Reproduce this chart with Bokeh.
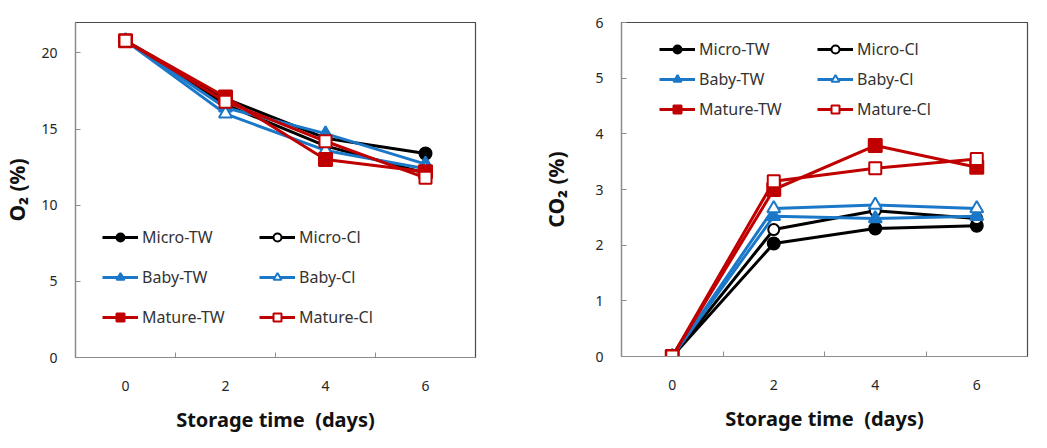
from bokeh.plotting import figure
from bokeh.models import Legend, LegendItem, FixedTicker, Range1d
from bokeh.layouts import row
from bokeh.embed import file_html
from bokeh.resources import INLINE

days = [0, 2, 4, 6]
series_names = ["Micro-TW", "Micro-Cl", "Baby-TW", "Baby-Cl", "Mature-TW", "Mature-Cl"]

o2_micro_tw = [20.8, 17.0, 14.4, 13.4]
o2_micro_cl = [20.8, 16.6, 13.9, 12.1]
o2_baby_tw = [20.8, 16.4, 14.7, 12.7]
o2_baby_cl = [20.8, 16.0, 13.6, 12.4]
o2_mature_tw = [20.8, 17.1, 13.0, 12.2]
o2_mature_cl = [20.8, 16.8, 14.2, 11.8]

co2_micro_tw = [0.0, 2.03, 2.30, 2.35]
co2_micro_cl = [0.0, 2.28, 2.62, 2.48]
co2_baby_tw = [0.0, 2.52, 2.48, 2.52]
co2_baby_cl = [0.0, 2.66, 2.72, 2.66]
co2_mature_tw = [0.0, 3.00, 3.79, 3.40]
co2_mature_cl = [0.0, 3.15, 3.38, 3.55]

o2_ticks = [0, 5, 10, 15, 20]
co2_ticks = [0, 1, 2, 3, 4, 5, 6]
x_ticks = [0, 2, 4, 6]
x_minor = [1, 3, 5]

BLACK = "#000000"
BLUE = "#1B78C8"
RED = "#C00000"
styles = [
    (BLACK, "circle", True, 12),
    (BLACK, "circle", False, 11),
    (BLUE, "triangle", True, 13),
    (BLUE, "triangle", False, 13),
    (RED, "square", True, 13),
    (RED, "square", False, 12),
]
FONT = "Noto Sans"
# legend is laid out column by column: put TW items first, then Cl items
legend_order = [0, 2, 4, 1, 3, 5]


def make_panel(data, ymax, yticks, ylabel, fw, fh, mleft, mright, mtop, mbottom,
               leg_loc, leg_spacing, leg_label_w, ylab_standoff):
    p = figure(frame_width=fw, frame_height=fh, output_backend="svg",
               toolbar_location=None, x_range=Range1d(-1, 7), y_range=Range1d(0, ymax),
               min_border_left=mleft, min_border_right=mright,
               min_border_top=mtop, min_border_bottom=mbottom)
    p.grid.visible = False
    p.outline_line_color = "#4a4a4a"
    p.outline_line_width = 1.2
    p.background_fill_color = "white"
    p.border_fill_color = "white"

    p.xaxis.ticker = FixedTicker(ticks=x_ticks, minor_ticks=x_minor)
    p.yaxis.ticker = FixedTicker(ticks=yticks)
    for ax in (p.xaxis, p.yaxis):
        ax.axis_line_color = "#8c8c8c"
        ax.axis_line_width = 1.2
        ax.major_tick_out = 0
        ax.minor_tick_out = 0
        ax.major_label_text_font = FONT
        ax.major_label_text_font_size = "14px"
        ax.major_label_text_color = "#262626"
        ax.axis_label_text_font = FONT
        ax.axis_label_text_font_style = "bold"
        ax.axis_label_text_color = "#111111"
    p.xaxis.axis_label_text_font_size = "20px"
    p.yaxis.axis_label_text_font_size = "21px"
    p.xaxis.major_tick_in = 0
    p.xaxis.minor_tick_in = 5
    p.xaxis.minor_tick_line_color = "#8c8c8c"
    p.yaxis.major_tick_in = 5
    p.yaxis.major_tick_line_color = "#8c8c8c"
    p.yaxis.minor_tick_in = 0
    p.xaxis.major_label_standoff = 23
    p.yaxis.major_label_standoff = 18
    p.xaxis.axis_label = "Storage time\u00a0\u00a0(days)"
    p.yaxis.axis_label = ylabel
    p.xaxis.axis_label_standoff = 12
    p.yaxis.axis_label_standoff = ylab_standoff

    items = []
    for name, vals, (col, mk, filled, sz) in zip(series_names, data, styles):
        r1 = p.line(days, vals, line_color=col, line_width=3)
        r2 = p.scatter(days, vals, marker=mk, size=sz, line_color=col,
                       fill_color=col if filled else "white", line_width=2)
        items.append(LegendItem(label=name, renderers=[r1, r2]))
    items = [items[i] for i in legend_order]

    leg = Legend(items=items, ncols=2, location=leg_loc, padding=0, margin=0,
                 border_line_color=None, background_fill_alpha=0,
                 glyph_width=36, glyph_height=20, label_height=20,
                 label_standoff=4, spacing=leg_spacing, label_width=leg_label_w,
                 label_text_font=FONT, label_text_font_size="16px",
                 label_text_color="#333333")
    p.add_layout(leg, "center")
    return p


left = make_panel(
    [o2_micro_tw, o2_micro_cl, o2_baby_tw, o2_baby_cl, o2_mature_tw, o2_mature_cl],
    22, o2_ticks, "O\u2082 (%)", 400, 335, 70, 62, 17, 80,
    (27, 29), 18, 99, 7)
right = make_panel(
    [co2_micro_tw, co2_micro_cl, co2_baby_tw, co2_baby_cl, co2_mature_tw, co2_mature_cl],
    6, co2_ticks, "CO\u2082 (%)", 406, 334, 84, 9, 22, 78,
    (38, 236), 8, 110, 22)

layout = row(left, right, spacing=0)
open("out.html", "w").write(file_html(layout, INLINE))
